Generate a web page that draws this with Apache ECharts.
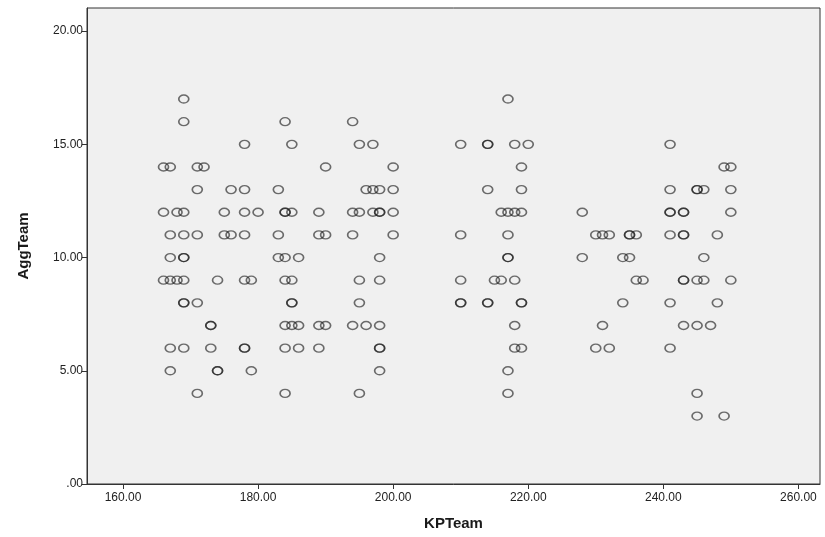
<!DOCTYPE html>
<html>
<head>
<meta charset="utf-8">
<script src="https://cdn.jsdelivr.net/npm/echarts@6/dist/echarts.min.js"></script>
<style>
  html, body { margin: 0; padding: 0; background: #ffffff; }
  #chart { width: 825px; height: 537px; }
</style>
</head>
<body>
<div id="chart"></div>
<script>
// KPTeam values, one entry per observation
const kpTeam = [
  166, 166, 166,
  167, 167, 167, 167, 167, 167,
  168, 168,
  169, 169, 169, 169, 169, 169, 169, 169, 169, 169,
  171, 171, 171, 171, 171,
  172,
  173, 173, 173,
  174, 174, 174,
  175, 175,
  176, 176,
  178, 178, 178, 178, 178, 178, 178,
  179, 179,
  180,
  183, 183, 183,
  184, 184, 184, 184, 184, 184, 184, 184,
  185, 185, 185, 185, 185, 185,
  186, 186, 186,
  189, 189, 189, 189,
  190, 190, 190,
  194, 194, 194, 194,
  195, 195, 195, 195, 195,
  196, 196,
  197, 197, 197,
  198, 198, 198, 198, 198, 198, 198, 198, 198,
  200, 200, 200, 200,
  210, 210, 210, 210, 210,
  214, 214, 214, 214, 214,
  215,
  216, 216,
  217, 217, 217, 217, 217, 217, 217,
  218, 218, 218, 218, 218,
  219, 219, 219, 219, 219, 219,
  220,
  228, 228,
  230, 230,
  231, 231,
  232, 232,
  234, 234,
  235, 235, 235,
  236, 236,
  237,
  241, 241, 241, 241, 241, 241, 241,
  243, 243, 243, 243, 243, 243, 243,
  245, 245, 245, 245, 245, 245,
  246, 246, 246,
  247,
  248, 248,
  249, 249,
  250, 250, 250, 250
];

// AggTeam values, aligned with kpTeam
const aggTeam = [
  14, 12, 9,
  14, 11, 10, 9, 6, 5,
  12, 9,
  17, 16, 12, 11, 10, 10, 9, 8, 8, 6,
  14, 13, 11, 8, 4,
  14,
  7, 7, 6,
  9, 5, 5,
  12, 11,
  13, 11,
  15, 13, 12, 11, 9, 6, 6,
  9, 5,
  12,
  13, 11, 10,
  16, 12, 12, 10, 9, 7, 6, 4,
  15, 12, 9, 8, 8, 7,
  10, 7, 6,
  12, 11, 7, 6,
  14, 11, 7,
  16, 12, 11, 7,
  15, 12, 9, 8, 4,
  13, 7,
  15, 13, 12,
  13, 12, 12, 10, 9, 7, 6, 6, 5,
  14, 13, 12, 11,
  15, 11, 9, 8, 8,
  15, 15, 13, 8, 8,
  9,
  12, 9,
  17, 12, 11, 10, 10, 5, 4,
  15, 12, 9, 7, 6,
  14, 13, 12, 8, 8, 6,
  15,
  12, 10,
  11, 6,
  11, 7,
  11, 6,
  10, 8,
  11, 11, 10,
  11, 9,
  9,
  15, 13, 12, 12, 11, 8, 6,
  12, 12, 11, 11, 9, 9, 7,
  13, 13, 9, 7, 4, 3,
  13, 10, 9,
  7,
  11, 8,
  14, 3,
  14, 13, 12, 9
];

// Tick labels on each axis
const xTicks = [160, 180, 200, 220, 240, 260];
const yTicks = [0, 5, 10, 15, 20];

const points = kpTeam.map((x, i) => [x, aggTeam[i]]);

const fmt = v => (v === 0 ? '.00' : Number(v).toFixed(2));

const chart = echarts.init(document.getElementById('chart'), null, { renderer: 'canvas' });

chart.setOption({
  animation: false,
  backgroundColor: '#ffffff',
  grid: {
    left: 87, right: 5, top: 8, bottom: 53,
    show: true,
    backgroundColor: '#f0f0f0',
    borderColor: '#333333',
    borderWidth: 1
  },
  xAxis: {
    type: 'value',
    min: 154.67,
    max: 263.2,
    name: 'KPTeam',
    nameLocation: 'middle',
    nameGap: 32,
    nameTextStyle: { fontFamily: 'Liberation Sans', fontWeight: 'bold', fontSize: 15, color: '#1a1a1a' },
    splitLine: { show: false },
    axisLine: { show: true, onZero: false, lineStyle: { color: '#333333', width: 1 } },
    axisTick: { show: true, length: 5, customValues: xTicks, lineStyle: { color: '#333333' } },
    axisLabel: {
      customValues: xTicks,
      formatter: fmt,
      fontFamily: 'Liberation Sans', fontSize: 12, color: '#222', margin: 8
    }
  },
  yAxis: {
    type: 'value',
    min: 0,
    max: 21.02,
    name: 'AggTeam',
    nameLocation: 'middle',
    nameGap: 56,
    nameTextStyle: { fontFamily: 'Liberation Sans', fontWeight: 'bold', fontSize: 15, color: '#1a1a1a' },
    splitLine: { show: false },
    axisLine: { show: true, onZero: false, lineStyle: { color: '#333333', width: 1 } },
    axisTick: { show: true, length: 5, customValues: yTicks, lineStyle: { color: '#333333' } },
    axisLabel: {
      customValues: yTicks,
      formatter: fmt,
      fontFamily: 'Liberation Sans', fontSize: 12, color: '#222', margin: 4
    }
  },
  series: [{
    type: 'scatter',
    data: points,
    symbol: 'circle',
    symbolSize: [10, 8],
    itemStyle: {
      color: 'rgba(0,0,0,0)',
      borderColor: 'rgba(30,30,30,0.8)',
      borderWidth: 1.5
    },
    emphasis: { disabled: true }
  }]
});
</script>
</body>
</html>
